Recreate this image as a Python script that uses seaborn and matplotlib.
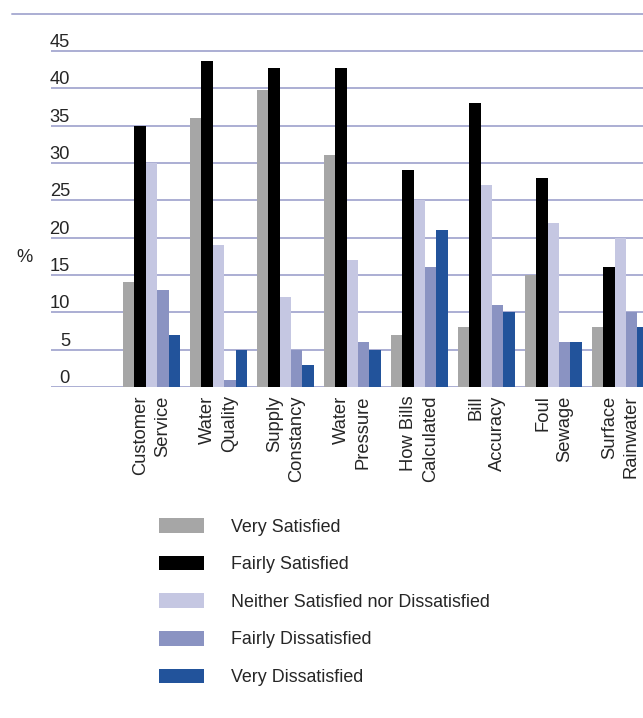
import pandas as pd
import seaborn as sns
import matplotlib.pyplot as plt

# survey categories and answers (percent)
categories = ["Customer\nService", "Water\nQuality", "Supply\nConstancy", "Water\nPressure",
              "How Bills\nCalculated", "Bill\nAccuracy", "Foul\nSewage", "Surface\nRainwater"]
answers = ["Very Satisfied", "Fairly Satisfied", "Neither Satisfied nor Dissatisfied",
           "Fairly Dissatisfied", "Very Dissatisfied"]
very_satisfied = [14, 36, 39.7, 31, 7, 8, 15, 8]
fairly_satisfied = [35, 43.6, 42.7, 42.7, 29, 38, 28, 16]
neither = [30, 19, 12, 17, 25, 27, 22, 20]
fairly_dissatisfied = [13, 1, 5, 6, 16, 11, 6, 10]
very_dissatisfied = [7, 5, 3, 5, 21, 10, 6, 8]
y_ticks = [0, 5, 10, 15, 20, 25, 30, 35, 40, 45]

colors = ["#A6A6A6", "#000000", "#C5C7E2", "#8A93C2", "#22539B"]
grid_col = "#ABAED3"

rows = []
for ans, vals in zip(answers, [very_satisfied, fairly_satisfied, neither,
                               fairly_dissatisfied, very_dissatisfied]):
    for cat, v in zip(categories, vals):
        rows.append({"cat": cat, "answer": ans, "pct": v})
df = pd.DataFrame(rows)

sns.set_style("white")
plt.rcParams['font.family'] = ['Liberation Sans', 'DejaVu Sans']

fig = plt.figure(figsize=(6.43, 7.18), dpi=100)
ax = fig.add_axes([51/643, 331/718, 592/643, 373.5/718])
sns.barplot(data=df, x="cat", y="pct", hue="answer", order=categories, hue_order=answers,
            palette=colors, width=0.846, linewidth=0, saturation=1, ax=ax)
handles, labels = ax.get_legend_handles_labels()
ax.get_legend().remove()

ax.set_xlim(-1.5, 7.336)
ax.set_ylim(0, 50)
ax.set_axisbelow(True)
ax.set_yticks(range(0, 55, 5))
ax.yaxis.grid(True, color=grid_col, linewidth=1.4)
ax.set_yticklabels([])
ax.tick_params(axis="y", length=0)
ax.tick_params(axis="x", length=0, pad=6, labelsize=13.2)
for s in ax.spines.values():
    s.set_visible(False)
ax.set_xlabel("")
ax.set_ylabel("")
for lab in ax.get_xticklabels():
    lab.set_rotation(90)
    lab.set_ha("center")
    lab.set_va("top")
    lab.set_multialignment("right")
    lab.set_linespacing(1.35)

# top border line runs further left
ax.axhline(50, xmin=-39/592, xmax=1, color=grid_col, linewidth=1.4, clip_on=False)

# y labels sit just above the grid lines
for t in y_ticks:
    ax.annotate(str(t), xy=(70/643, t), xycoords=("figure fraction", "data"),
                xytext=(0, 2.8), textcoords="offset points",
                ha="right", va="baseline", fontsize=13.2)
fig.text(24.5/643, 1 - 258/718, "%", ha="center", va="center", fontsize=13.2)

fig.legend(handles, labels, loc="upper left", bbox_to_anchor=(159/643, 1 - 518/718),
           frameon=False, fontsize=12.9, handlelength=2.5, handleheight=0.89,
           handletextpad=1.54, labelspacing=1.12, borderpad=0, borderaxespad=0)

fig.savefig("out.png", dpi=100)
